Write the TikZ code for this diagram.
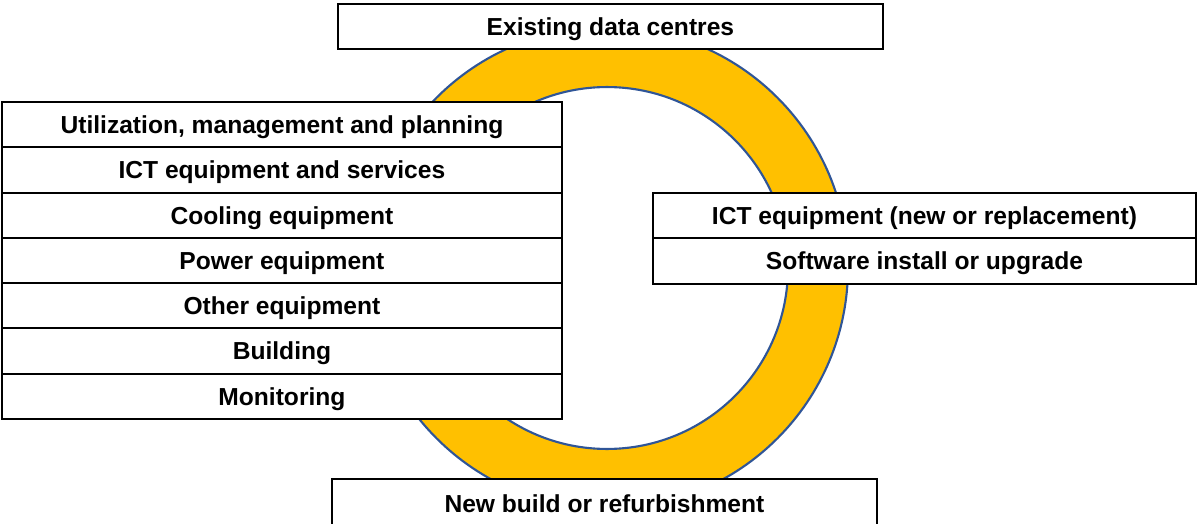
\documentclass[tikz,border=0pt]{standalone}
\usepackage{fontspec}
\setmainfont{Liberation Sans}
\usetikzlibrary{positioning}
\definecolor{ringgold}{HTML}{FFC000}
\definecolor{ringblue}{HTML}{2F5597}
\tikzset{
  cell/.style={draw=black, line width=1.1pt, fill=white, inner sep=0pt, outer sep=0pt,
    minimum height=0.906cm, text height=10pt, text depth=0pt,
    font=\bfseries\fontsize{14}{16}\selectfont},
  leftcell/.style={cell, minimum width=11.2cm},
}
\begin{document}
\begin{tikzpicture}[x=0.02cm, y=-0.02cm]
\useasboundingbox (0,0) rectangle (1198,524);
% the ring
\coordinate (centre) at (607,268);
\fill[ringgold, even odd rule] (centre) circle[radius=4.82cm] (centre) circle[radius=3.62cm];
\draw[ringblue, line width=1.2pt] (centre) circle[radius=4.82cm];
\draw[ringblue, line width=1.2pt] (centre) circle[radius=3.62cm];

\node[cell, minimum width=10.9cm, anchor=north west] (existing) at (338,4) {Existing data centres};
\node[cell, minimum width=10.9cm, minimum height=1.0cm, anchor=north west] (newbuild) at (332,479) {New build or refurbishment};

% left stack
\node[leftcell, anchor=north west] (util) at (2,102) {Utilization, management and planning};
\foreach \name/\txt [remember=\name as \prev (initially util)] in
  {ictsvc/ICT equipment and services, cooling/Cooling equipment, power/Power equipment,
   other/Other equipment, building/Building, monitoring/Monitoring}{
  \node[leftcell, below=0pt of \prev] (\name) {\txt};
}

% right stack
\node[cell, minimum width=10.86cm, anchor=north west] (ictnew) at (653,193) {ICT equipment (new or replacement)};
\node[cell, minimum width=10.86cm, below=0pt of ictnew] (software) {Software install or upgrade};
\end{tikzpicture}
\end{document}
